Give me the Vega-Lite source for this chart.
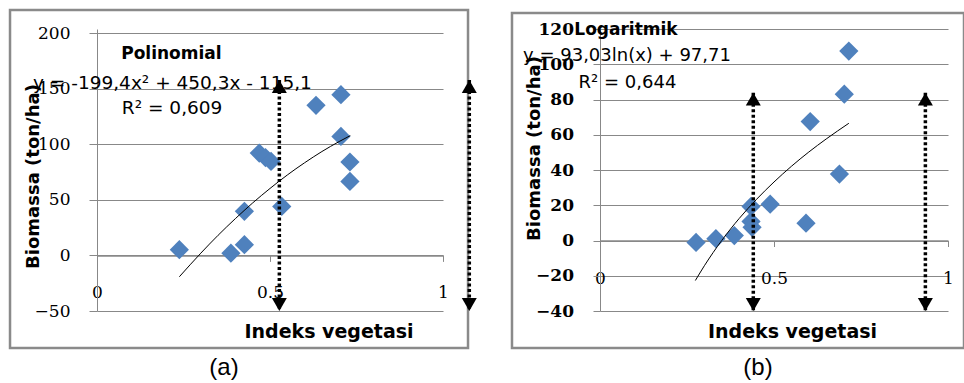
{
  "$schema": "https://vega.github.io/schema/vega-lite/v6.json",
  "background": "white",
  "padding": {"left": 8, "top": 8, "right": 0, "bottom": 0},
  "bounds": "flush",
  "spacing": 157,
  "config": {"view": {"stroke": null}, "font": "DejaVu Sans"},
  "datasets": {
    "frameA": [{"x": -0.2514, "y": 220.7, "x2": 1.0723, "y2": -83.3}],
    "ptsA": [
      {"x": 0.238, "y": 5.1}, {"x": 0.387, "y": 2.0}, {"x": 0.426, "y": 9.6}, {"x": 0.426, "y": 39.6},
      {"x": 0.469, "y": 92}, {"x": 0.487, "y": 88}, {"x": 0.503, "y": 84.5}, {"x": 0.534, "y": 44},
      {"x": 0.633, "y": 135}, {"x": 0.705, "y": 144.5}, {"x": 0.705, "y": 107}, {"x": 0.731, "y": 84},
      {"x": 0.731, "y": 66.5}
    ],
    "fitA": [
      {"x": 0.238, "y": -19.2}, {"x": 0.3, "y": 2.0}, {"x": 0.35, "y": 18.1}, {"x": 0.4, "y": 33.1},
      {"x": 0.45, "y": 47.2}, {"x": 0.5, "y": 60.2}, {"x": 0.55, "y": 72.3}, {"x": 0.6, "y": 83.3},
      {"x": 0.65, "y": 93.4}, {"x": 0.7, "y": 102.4}, {"x": 0.732, "y": 107.7}
    ],
    "arrA": [{"x": 0.527, "y": 157.7, "y2": -50}, {"x": 1.076, "y": 157.7, "y2": -50}],
    "headA": [
      {"x": 0.527, "y": 157.7, "dir": "up"}, {"x": 0.527, "y": -50, "dir": "down"},
      {"x": 1.076, "y": 157.7, "dir": "up"}, {"x": 1.076, "y": -50, "dir": "down"}
    ],
    "nameA": [{"x": 0.215, "y": 181.1, "label": "Polinomial"}],
    "eqA": [
      {"x": 0.218, "y": 155.0, "label": "y = -199,4x² + 450,3x - 115,1"},
      {"x": 0.217, "y": 132.6, "label": "R² = 0,609"}
    ],
    "capA": [{"x": 0.367, "y": -101.3, "label": "(a)"}],
    "frameB": [{"x": -0.2529, "y": 129.1, "x2": 1.046, "y2": -61}],
    "ptsB": [
      {"x": 0.276, "y": -1.1}, {"x": 0.333, "y": 1.0}, {"x": 0.386, "y": 2.8}, {"x": 0.434, "y": 19.3},
      {"x": 0.434, "y": 10.8}, {"x": 0.437, "y": 7.5}, {"x": 0.489, "y": 20.6}, {"x": 0.592, "y": 9.8},
      {"x": 0.604, "y": 67.5}, {"x": 0.688, "y": 37.7}, {"x": 0.702, "y": 83}, {"x": 0.715, "y": 107.5}
    ],
    "fitB": [
      {"x": 0.274, "y": -22.7}, {"x": 0.3, "y": -14.3}, {"x": 0.35, "y": 0.05}, {"x": 0.4, "y": 12.5},
      {"x": 0.45, "y": 23.4}, {"x": 0.5, "y": 33.2}, {"x": 0.55, "y": 42.1}, {"x": 0.6, "y": 50.2},
      {"x": 0.65, "y": 57.6}, {"x": 0.715, "y": 66.5}
    ],
    "arrB": [{"x": 0.4405, "y": 83.9, "y2": -40}, {"x": 0.935, "y": 83.9, "y2": -40}],
    "headB": [
      {"x": 0.4405, "y": 83.9, "dir": "up"}, {"x": 0.4405, "y": -40, "dir": "down"},
      {"x": 0.935, "y": 83.9, "dir": "up"}, {"x": 0.935, "y": -40, "dir": "down"}
    ],
    "nameB": [{"x": 0.0747, "y": 119.5, "label": "Logaritmik"}],
    "eqB": [
      {"x": 0.0776, "y": 104.7, "label": "y = 93,03ln(x) + 97,71"},
      {"x": 0.079, "y": 89.4, "label": "R² = 0,644"}
    ],
    "capB": [{"x": 0.454, "y": -72.3, "label": "(b)"}]
  },
  "hconcat": [
    {
      "width": 346,
      "height": 282,
      "encoding": {
        "x": {
          "field": "x", "type": "quantitative",
          "scale": {"domain": [0, 1], "nice": false, "zero": false},
          "axis": {
            "values": [0, 0.5, 1], "labelExpr": "'' + datum.value", "offset": -55.6, "grid": false,
            "domainColor": "#888888", "domainWidth": 1.5, "tickColor": "#888888", "tickSize": 6,
            "labelPadding": 30.6, "labelBaseline": "middle", "labelFlush": false, "labelOverlap": false,
            "labelFont": "DejaVu Serif", "labelFontSize": 17, "labelColor": "#000000",
            "title": "Indeks vegetasi", "titleX": 231.5, "titleY": 75.6, "titleAlign": "center",
            "titleBaseline": "middle", "titleFont": "DejaVu Sans", "titleFontSize": 19,
            "titleFontWeight": "bold", "titleColor": "#000000"
          }
        },
        "y": {
          "field": "y", "type": "quantitative",
          "scale": {"domain": [-50, 203.6], "nice": false, "zero": false},
          "axis": {
            "values": [-50, 0, 50, 100, 150, 200], "format": "d", "grid": true,
            "gridColor": "#888888", "gridWidth": 1.2, "domainColor": "#888888", "domainWidth": 1,
            "tickColor": "#888888", "tickSize": 8, "labelPadding": 19, "labelOverlap": false,
            "labelFont": "DejaVu Serif", "labelFontSize": 17, "labelColor": "#000000",
            "title": "Biomassa (ton/ha)", "titleX": -64, "titleY": 147, "titleAngle": -90,
            "titleAlign": "center", "titleBaseline": "middle", "titleFont": "DejaVu Sans",
            "titleFontSize": 18, "titleFontWeight": "bold", "titleColor": "#000000"
          }
        }
      },
      "layer": [
        {
          "data": {"name": "frameA"},
          "mark": {"type": "rect", "fill": null, "stroke": "#8a8a8a", "strokeWidth": 2.5, "clip": false},
          "encoding": {"x2": {"field": "x2"}, "y2": {"field": "y2"}}
        },
        {
          "data": {"name": "ptsA"},
          "mark": {"type": "point", "shape": "diamond", "filled": true, "size": 370, "color": "#4F81BD", "opacity": 1, "clip": false}
        },
        {
          "data": {"name": "fitA"},
          "mark": {"type": "line", "color": "#000000", "strokeWidth": 1, "interpolate": "monotone", "clip": false}
        },
        {
          "data": {"name": "arrA"},
          "mark": {"type": "rule", "color": "#000000", "strokeWidth": 3.5, "strokeDash": [3, 2.5], "clip": false},
          "encoding": {"y2": {"field": "y2"}}
        },
        {
          "data": {"name": "headA"},
          "transform": [{"filter": "datum.dir == 'up'"}],
          "mark": {"type": "point", "shape": "triangle-up", "filled": true, "size": 225, "color": "#000000", "opacity": 1, "yOffset": 6.5, "clip": false}
        },
        {
          "data": {"name": "headA"},
          "transform": [{"filter": "datum.dir == 'down'"}],
          "mark": {"type": "point", "shape": "triangle-down", "filled": true, "size": 225, "color": "#000000", "opacity": 1, "yOffset": -6.5, "clip": false}
        },
        {
          "data": {"name": "nameA"},
          "mark": {"type": "text", "font": "DejaVu Sans", "fontSize": 17, "fontWeight": "bold", "color": "#000000", "align": "center", "baseline": "middle", "clip": false},
          "encoding": {"text": {"field": "label"}}
        },
        {
          "data": {"name": "eqA"},
          "mark": {"type": "text", "font": "DejaVu Sans", "fontSize": 18.5, "color": "#000000", "align": "center", "baseline": "middle", "clip": false},
          "encoding": {"text": {"field": "label"}}
        },
        {
          "data": {"name": "capA"},
          "mark": {"type": "text", "font": "Liberation Sans", "fontSize": 24, "color": "#000000", "align": "center", "baseline": "middle", "clip": false},
          "encoding": {"text": {"field": "label"}}
        }
      ]
    },
    {
      "width": 348,
      "height": 282,
      "encoding": {
        "x": {
          "field": "x", "type": "quantitative",
          "scale": {"domain": [0, 1], "nice": false, "zero": false},
          "axis": {
            "values": [0, 0.5, 1], "labelExpr": "'' + datum.value", "offset": -70.5, "grid": false,
            "domainColor": "#888888", "domainWidth": 1.5, "tickColor": "#888888", "tickSize": 6,
            "labelPadding": 31.5, "labelBaseline": "middle", "labelFlush": false, "labelOverlap": false,
            "labelFont": "DejaVu Serif", "labelFontSize": 17, "labelColor": "#000000",
            "title": "Indeks vegetasi", "titleX": 192, "titleY": 90.5, "titleAlign": "center",
            "titleBaseline": "middle", "titleFont": "DejaVu Sans", "titleFontSize": 19,
            "titleFontWeight": "bold", "titleColor": "#000000"
          }
        },
        "y": {
          "field": "y", "type": "quantitative",
          "scale": {"domain": [-40, 120], "nice": false, "zero": false},
          "axis": {
            "values": [-40, -20, 0, 20, 40, 60, 80, 100, 120], "format": "d", "grid": true,
            "gridColor": "#888888", "gridWidth": 1.2, "domainColor": "#888888", "domainWidth": 1,
            "tickColor": "#888888", "tickSize": 7, "labelPadding": 19.5, "labelOverlap": false,
            "labelFont": "DejaVu Serif", "labelFontSize": 17, "labelFontWeight": "bold", "labelColor": "#000000",
            "title": "Biomassa (ton/ha)", "titleX": -66, "titleY": 119, "titleAngle": -90,
            "titleAlign": "center", "titleBaseline": "middle", "titleFont": "DejaVu Sans",
            "titleFontSize": 18, "titleFontWeight": "bold", "titleColor": "#000000"
          }
        }
      },
      "layer": [
        {
          "data": {"name": "frameB"},
          "mark": {"type": "rect", "fill": null, "stroke": "#8a8a8a", "strokeWidth": 2.5, "clip": false},
          "encoding": {"x2": {"field": "x2"}, "y2": {"field": "y2"}}
        },
        {
          "data": {"name": "ptsB"},
          "mark": {"type": "point", "shape": "diamond", "filled": true, "size": 370, "color": "#4F81BD", "opacity": 1, "clip": false}
        },
        {
          "data": {"name": "fitB"},
          "mark": {"type": "line", "color": "#000000", "strokeWidth": 1, "interpolate": "monotone", "clip": false}
        },
        {
          "data": {"name": "arrB"},
          "mark": {"type": "rule", "color": "#000000", "strokeWidth": 3.5, "strokeDash": [3, 2.5], "clip": false},
          "encoding": {"y2": {"field": "y2"}}
        },
        {
          "data": {"name": "headB"},
          "transform": [{"filter": "datum.dir == 'up'"}],
          "mark": {"type": "point", "shape": "triangle-up", "filled": true, "size": 225, "color": "#000000", "opacity": 1, "yOffset": 6.5, "clip": false}
        },
        {
          "data": {"name": "headB"},
          "transform": [{"filter": "datum.dir == 'down'"}],
          "mark": {"type": "point", "shape": "triangle-down", "filled": true, "size": 225, "color": "#000000", "opacity": 1, "yOffset": -6.5, "clip": false}
        },
        {
          "data": {"name": "nameB"},
          "mark": {"type": "text", "font": "DejaVu Sans", "fontSize": 17, "fontWeight": "bold", "color": "#000000", "align": "center", "baseline": "middle", "clip": false},
          "encoding": {"text": {"field": "label"}}
        },
        {
          "data": {"name": "eqB"},
          "mark": {"type": "text", "font": "DejaVu Sans", "fontSize": 18, "color": "#000000", "align": "center", "baseline": "middle", "clip": false},
          "encoding": {"text": {"field": "label"}}
        },
        {
          "data": {"name": "capB"},
          "mark": {"type": "text", "font": "Liberation Sans", "fontSize": 24, "color": "#000000", "align": "center", "baseline": "middle", "clip": false},
          "encoding": {"text": {"field": "label"}}
        }
      ]
    }
  ]
}
